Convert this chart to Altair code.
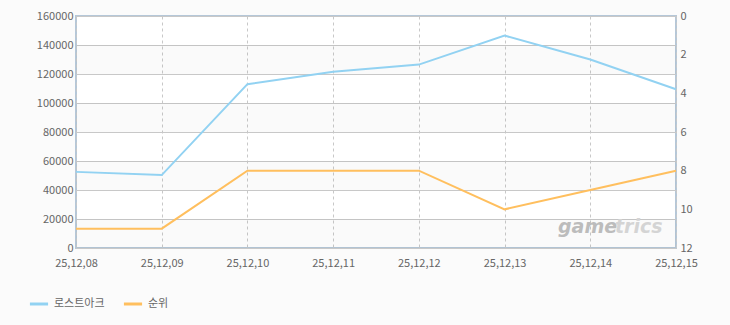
import altair as alt
import pandas as pd

dates = ["25,12,08", "25,12,09", "25,12,10", "25,12,11", "25,12,12", "25,12,13", "25,12,14", "25,12,15"]
sales = [52500, 50300, 113000, 121500, 126500, 146500, 130000, 109500]
rank = [11, 11, 8, 8, 8, 10, 9, 8]
series_names = ["로스트아크", "순위"]
series_colors = ["#92d2f2", "#ffbf5e"]
band_starts = [0, 40000, 80000, 120000]
band_size = 20000
sales_ticks = [0, 20000, 40000, 60000, 80000, 100000, 120000, 140000, 160000]
rank_ticks = [0, 2, 4, 6, 8, 10, 12]

df_sales = pd.DataFrame({"date": dates, "value": sales, "series": series_names[0]})
df_rank = pd.DataFrame({"date": dates, "value": rank, "series": series_names[1]})
df_bands = pd.DataFrame({"start": band_starts, "end": [b + band_size for b in band_starts]})

FONT = "Noto Sans CJK KR"
LBL = "#666666"

x_enc = alt.X(
    "date:O", sort=dates,
    scale=alt.Scale(type="point", padding=0),
    axis=alt.Axis(title=None, labelAngle=0, grid=True, gridDash=[3, 3], gridColor="#c8c8c8",
                  ticks=False, domain=False, labelColor=LBL, labelFontSize=11,
                  labelPadding=9, labelFont=FONT, labelOverlap=False),
)

color_enc = alt.Color(
    "series:N",
    scale=alt.Scale(domain=series_names, range=series_colors),
    legend=alt.Legend(title=None, orient="none", legendX=-48, legendY=277, direction="horizontal",
                      symbolType="stroke", symbolStrokeWidth=3, symbolSize=330,
                      labelFontSize=11, labelColor=LBL, labelFont=FONT, columnPadding=12,
                      symbolOffset=0),
)

sales_scale = alt.Scale(domain=[0, 160000], nice=False)
sales_axis = alt.Axis(title=None, values=sales_ticks, format="d",
                      grid=True, gridColor="#c8c8c8", ticks=False, domain=False,
                      labelColor=LBL, labelFontSize=11, labelPadding=3, labelFont=FONT,
                      labelOverlap=False, labelFlush=False)

bands = alt.Chart(df_bands).mark_rect(color="#000000", opacity=0.018).encode(
    x=alt.value(0), x2=alt.value(600),
    y=alt.Y("start:Q", scale=sales_scale, axis=sales_axis),
    y2="end:Q",
)

sales_line = alt.Chart(df_sales).mark_line(strokeWidth=2).encode(
    x=x_enc,
    y=alt.Y("value:Q", scale=sales_scale, axis=sales_axis),
    color=color_enc,
)

wm1 = alt.Chart(pd.DataFrame({"t": ["game"]})).mark_text(
    font="DejaVu Sans", fontSize=19, fontStyle="italic", fontWeight="bold",
    color="#bcbcbc", align="left", baseline="middle"
).encode(x=alt.value(482), y=alt.value(211), text="t:N")

wm2 = alt.Chart(pd.DataFrame({"t": ["trics"]})).mark_text(
    font="DejaVu Sans", fontSize=19, fontStyle="italic", fontWeight="bold",
    color="#d4d4d4", align="left", baseline="middle"
).encode(x=alt.value(539), y=alt.value(211), text="t:N")

left = alt.layer(bands, sales_line, wm1, wm2)

rank_line = alt.Chart(df_rank).mark_line(strokeWidth=2).encode(
    x=x_enc,
    y=alt.Y("value:Q", scale=alt.Scale(domain=[0, 12], reverse=True, nice=False),
            axis=alt.Axis(title=None, orient="right", values=rank_ticks,
                          grid=False, ticks=False, domain=False, labelColor=LBL,
                          labelFontSize=11, labelPadding=4, labelFont=FONT,
                          labelOverlap=False, labelFlush=False)),
    color=color_enc,
)

chart = alt.layer(left, rank_line).resolve_scale(y="independent").properties(
    width=600, height=232,
    autosize=alt.AutoSizeParams(type="none"),
    padding={"left": 76, "top": 16, "right": 54, "bottom": 77},
    background="#fbfbfb",
).configure_view(stroke="#b5c7d8", strokeWidth=2, fill="white")

chart.save("out.html", embed_options={"renderer": "svg", "actions": False})
